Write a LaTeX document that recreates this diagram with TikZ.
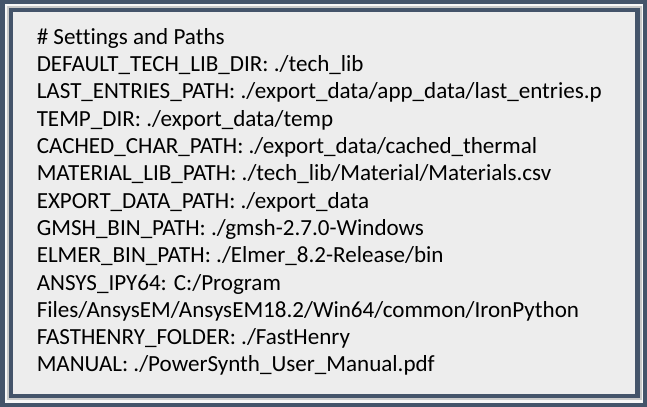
\documentclass[tikz,border=0pt]{standalone}
\usepackage{fontspec}
\setmainfont[Ligatures=NoCommon]{Carlito}
\usepackage{tikz}

\definecolor{framedark}{HTML}{44546A}
\definecolor{framegap}{HTML}{F7F7F7}
\definecolor{paneshade}{HTML}{C9C9C9}
\definecolor{panefill}{HTML}{EDEDED}

\tikzset{entry/.style={anchor=base west, inner sep=0pt, font=\fontsize{17.3}{20}\selectfont}}

\begin{document}
\begin{tikzpicture}[x=0.75pt, y=-0.75pt]
            \useasboundingbox (0,0) rectangle (647,407);
            \fill[framedark] (0,0) rectangle (647,407);
            \fill[framegap] (4.5,4) rectangle (642.5,402.5);
            \draw[paneshade, line width=1.5] (7.5,7) rectangle (640.5,399);
            \fill[framedark] (8.5,7.5) rectangle (639.5,398);
            \fill[panefill] (12.5,11.5) rectangle (635,393.5);
            \node[entry] (head) at (36.5,44.3) {\# Settings and Paths};
            \node[entry] (techlib) at (36.5,71.6) {DEFAULT\_TECH\_LIB\_DIR: ./tech\_lib};
            \node[entry] (lastentries) at (36.5,98.9) {LAST\_ENTRIES\_PATH: ./export\_data/app\_data/last\_entries.p};
            \node[entry] (tempdir) at (36.5,126.2) {TEMP\_DIR: ./export\_data/temp};
            \node[entry] (cachedchar) at (36.5,153.5) {CACHED\_CHAR\_PATH: ./export\_data/cached\_thermal};
            \node[entry] (materiallib) at (36.5,180.8) {MATERIAL\_LIB\_PATH: ./tech\_lib/Material/Materials.csv};
            \node[entry] (exportdata) at (36.5,208.1) {EXPORT\_DATA\_PATH: ./export\_data};
            \node[entry] (gmshbin) at (36.5,235.4) {GMSH\_BIN\_PATH: ./gmsh-2.7.0-Windows};
            \node[entry] (elmerbin) at (36.5,262.7) {ELMER\_BIN\_PATH: ./Elmer\_8.2-Release/bin};
            \node[entry] (ansysipy) at (36.5,290.0) {ANSYS\_IPY64: C:/Program};
            \node[entry] (ansyscont) at (36.5,317.3) {Files/AnsysEM/AnsysEM18.2/Win64/common/IronPython};
            \node[entry] (fasthenry) at (36.5,344.6) {FASTHENRY\_FOLDER: ./FastHenry};
            \node[entry] (manual) at (36.5,371.9) {MANUAL: ./PowerSynth\_User\_Manual.pdf};
        \end{tikzpicture}
\end{document}
